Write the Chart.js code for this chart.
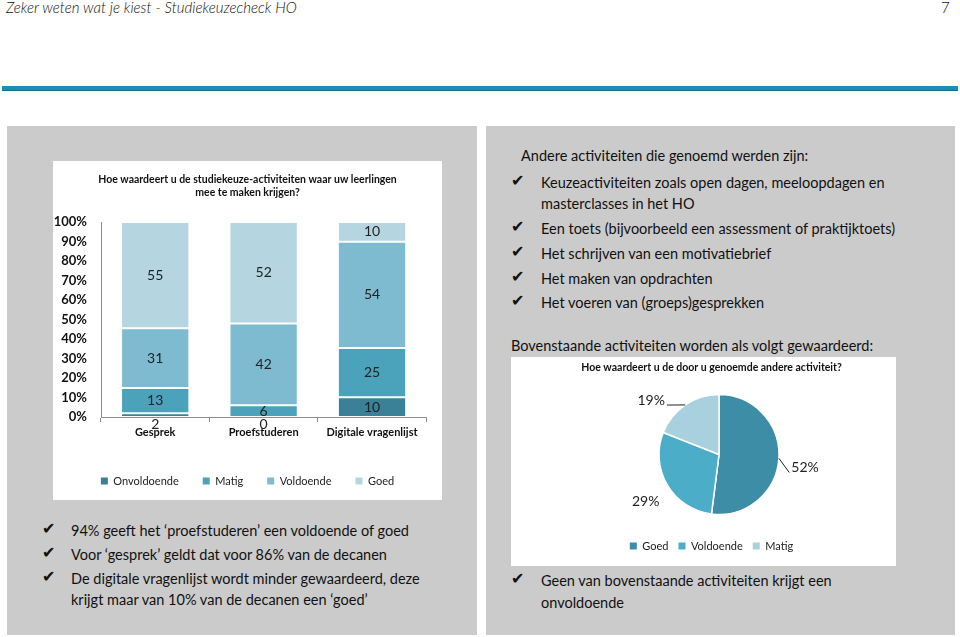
<!DOCTYPE html>
<html>
<head>
<meta charset="utf-8">
<script src="https://cdn.jsdelivr.net/npm/chart.js@4/dist/chart.umd.min.js"></script>
<style>
  html, body { margin: 0; padding: 0; background: #fff; }
  body { width: 960px; height: 637px; position: relative; overflow: hidden; font-family: Lato, "Open Sans", sans-serif; color: #111; }
  .panel { position: absolute; background: #cbcbcb; }
  .box { position: absolute; background: #fff; }
  .ln { position: absolute; white-space: nowrap; font-size: 14.5px; line-height: 20px; }
  .ck { position: absolute; font-family: "DejaVu Sans", sans-serif; font-size: 16px; line-height: 20px; }
</style>
</head>
<body>
<div class="ln" style="left:6px;top:-3px;font-size:15px;font-style:italic;font-weight:300;">Zeker weten wat je kiest - Studiekeuzecheck HO</div>
<div class="ln" style="left:941px;top:-3px;font-size:15px;font-weight:300;">7</div>
<div style="position:absolute;left:2px;top:86px;width:956px;height:4px;background:#1d8db5;border-bottom:1px solid #12708f;"></div>

<div class="panel" style="left:7px;top:126px;width:470px;height:509px;"></div>
<div class="panel" style="left:486px;top:126px;width:469px;height:509px;"></div>

<div class="box" style="left:53px;top:161px;width:389px;height:339px;">
  <canvas id="barChart" width="389" height="339"></canvas>
</div>
<div class="box" style="left:511px;top:357px;width:385px;height:209px;">
  <canvas id="pieChart" width="385" height="209"></canvas>
</div>

<!-- left panel notes -->
<div class="ck" style="left:42px;top:519px;">✔</div>
<div class="ln" style="left:71px;top:521px;">94% geeft het ‘proefstuderen’ een voldoende of goed</div>
<div class="ck" style="left:42px;top:543px;">✔</div>
<div class="ln" style="left:71px;top:545px;">Voor ‘gesprek’ geldt dat voor 86% van de decanen</div>
<div class="ck" style="left:42px;top:567px;">✔</div>
<div class="ln" style="left:71px;top:569px;">De digitale vragenlijst wordt minder gewaardeerd, deze</div>
<div class="ln" style="left:71px;top:590px;">krijgt maar van 10% van de decanen een ‘goed’</div>

<!-- right panel notes -->
<div class="ln" style="left:521px;top:146px;">Andere activiteiten die genoemd werden zijn:</div>
<div class="ck" style="left:511px;top:171px;">✔</div>
<div class="ln" style="left:541px;top:173px;">Keuzeactiviteiten zoals open dagen, meeloopdagen en</div>
<div class="ln" style="left:541px;top:194px;">masterclasses in het HO</div>
<div class="ck" style="left:511px;top:217px;">✔</div>
<div class="ln" style="left:541px;top:219px;">Een toets (bijvoorbeeld een assessment of praktijktoets)</div>
<div class="ck" style="left:511px;top:242px;">✔</div>
<div class="ln" style="left:541px;top:244px;">Het schrijven van een motivatiebrief</div>
<div class="ck" style="left:511px;top:267px;">✔</div>
<div class="ln" style="left:541px;top:269px;">Het maken van opdrachten</div>
<div class="ck" style="left:511px;top:291px;">✔</div>
<div class="ln" style="left:541px;top:293px;">Het voeren van (groeps)gesprekken</div>
<div class="ln" style="left:511px;top:336px;">Bovenstaande activiteiten worden als volgt gewaardeerd:</div>
<div class="ck" style="left:511px;top:569px;">✔</div>
<div class="ln" style="left:541px;top:571px;">Geen van bovenstaande activiteiten krijgt een</div>
<div class="ln" style="left:541px;top:593px;">onvoldoende</div>

<script>
const categories = ['Gesprek', 'Proefstuderen', 'Digitale vragenlijst'];
const ratingNames = ['Onvoldoende', 'Matig', 'Voldoende', 'Goed'];
const onvoldoende = [2, 0, 10];
const matig = [13, 6, 25];
const voldoende = [31, 42, 54];
const goed = [55, 52, 10];

const pieLabels = ['Goed', 'Voldoende', 'Matig'];
const pieValues = [52, 29, 19];

const barColors = ['#3a8096', '#4aa3bb', '#7ebbd0', '#b5d6e1'];
const pieColors = ['#3c8da5', '#4badc7', '#a8d0de'];

Chart.defaults.font.family = 'Lato, "Open Sans", sans-serif';
Chart.defaults.color = '#111';

// 100% stacked: every value as share of its column total
const series = [onvoldoende, matig, voldoende, goed];
const totals = categories.map((c, i) => series.reduce((s, arr) => s + arr[i], 0));

// numbers inside the segments
const barLabels = {
  id: 'barLabels',
  afterDatasetsDraw(chart) {
    const ctx = chart.ctx;
    ctx.save();
    ctx.font = '14px Lato';
    ctx.fillStyle = '#222';
    ctx.textAlign = 'center';
    ctx.textBaseline = 'middle';
    chart.data.datasets.forEach((ds, di) => {
      chart.getDatasetMeta(di).data.forEach((bar, i) => {
        const top = Math.min(bar.y, bar.base);
        const bottom = Math.max(bar.y, bar.base);
        let y = (top + bottom) / 2;
        if (bottom - top < 10) y = bar.base + 7;
        ctx.fillText(ds.raw[i], bar.x, y);
      });
    });
    ctx.restore();
  }
};

// legend squares without the white outline of the bars/slices
const flatBoxes = gen => chart => gen(chart).map(l => ({ ...l, lineWidth: 0 }));

new Chart(document.getElementById('barChart'), {
  type: 'bar',
  data: {
    labels: categories,
    datasets: series.map((arr, k) => ({
      label: ratingNames[k],
      raw: arr,
      data: arr.map((v, i) => v / totals[i] * 100),
      backgroundColor: barColors[k],
      borderColor: '#fff',
      borderWidth: 1,
      borderSkipped: false,
      categoryPercentage: 1,
      barPercentage: 0.63
    }))
  },
  options: {
    responsive: false,
    animation: false,
    layout: { padding: { left: 0, right: 0, top: 0, bottom: 3.5 } },
    scales: {
      x: {
        stacked: true,
        grid: { display: true, drawOnChartArea: false, tickLength: 5, color: '#8c8c8c' },
        border: { display: true, color: '#8c8c8c' },
        ticks: { font: { size: 11, weight: 'bold' }, padding: 4, maxRotation: 0, color: '#111' },
        afterFit(s) { s.height = 34.5; }
      },
      y: {
        stacked: true,
        min: 0,
        max: 100,
        grid: { display: false, drawTicks: false },
        border: { display: true, color: '#8c8c8c' },
        ticks: { stepSize: 10, autoSkip: false, padding: 14, font: { size: 13, weight: 'bold' }, color: '#111', callback: v => v + '%' },
        afterFit(s) { s.width = 48; }
      },
      // empty right-hand axis: only keeps the plot narrower than title and legend
      yRight: {
        position: 'right',
        grid: { display: false },
        border: { display: false },
        ticks: { display: false },
        afterFit(s) { s.width = 15.75; }
      }
    },
    plugins: {
      title: {
        display: true,
        text: ['Hoe waardeert u de studiekeuze-activiteiten waar uw leerlingen', 'mee te maken krijgen?'],
        font: { size: 10.5, weight: 'bold' },
        color: '#111',
        padding: { top: 12.5, bottom: 23.3 }
      },
      legend: {
        position: 'bottom',
        labels: {
          boxWidth: 7, boxHeight: 7, font: { size: 11 }, padding: 24, color: '#222',
          generateLabels: flatBoxes(Chart.defaults.plugins.legend.labels.generateLabels)
        }
      },
      tooltip: { enabled: false }
    }
  },
  plugins: [barLabels]
});

// percentage labels round the pie, with a leader line where Excel drew one
const pieLabelPlugin = {
  id: 'pieLabelPlugin',
  afterLayout(chart) {
    chart.chartArea.left += 15;
  },
  afterDatasetsDraw(chart, args, opts) {
    const ctx = chart.ctx;
    const meta = chart.getDatasetMeta(0);
    const vals = chart.data.datasets[0].data;
    const sum = vals.reduce((a, b) => a + b, 0);
    ctx.save();
    ctx.font = '14px Lato';
    ctx.fillStyle = '#222';
    ctx.strokeStyle = '#222';
    ctx.lineWidth = 1;
    ctx.textAlign = 'center';
    ctx.textBaseline = 'middle';
    meta.data.forEach((arc, i) => {
      const mid = (arc.startAngle + arc.endAngle) / 2;
      const a = mid + opts.angleShift[i] * Math.PI / 180;
      const d = arc.outerRadius * opts.distance;
      const lx = arc.x + Math.cos(a) * d;
      const ly = arc.y + Math.sin(a) * d;
      const txt = Math.round(vals[i] / sum * 100) + '%';
      ctx.fillText(txt, lx, ly);
      if (opts.leader[i]) {
        const w = ctx.measureText(txt).width;
        const ex = arc.x + Math.cos(mid) * arc.outerRadius;
        const ey = arc.y + Math.sin(mid) * arc.outerRadius;
        const tx = lx > arc.x ? lx - w / 2 - 2 : lx + w / 2 + 2;
        ctx.beginPath();
        ctx.moveTo(ex, ey);
        ctx.lineTo(tx, ly + 5);
        ctx.stroke();
      }
    });
    ctx.restore();
  }
};

new Chart(document.getElementById('pieChart'), {
  type: 'pie',
  data: {
    labels: pieLabels,
    datasets: [{
      data: pieValues,
      backgroundColor: pieColors,
      borderColor: '#fff',
      borderWidth: 1.5,
      radius: 60
    }]
  },
  options: {
    responsive: false,
    animation: false,
    layout: { padding: { left: 16, right: 0, top: 0, bottom: 4.5 } },
    plugins: {
      title: {
        display: true,
        text: 'Hoe waardeert u de door u genoemde andere activiteit?',
        font: { size: 10.5, weight: 'bold' },
        color: '#111',
        padding: { top: 4, bottom: 5 }
      },
      legend: {
        position: 'bottom',
        labels: {
          boxWidth: 7, boxHeight: 7, font: { size: 11 }, padding: 10, color: '#222',
          generateLabels: flatBoxes(Chart.overrides.pie.plugins.legend.labels.generateLabels)
        }
      },
      tooltip: { enabled: false },
      pieLabelPlugin: { angleShift: [5, -2, -17], distance: 1.45, leader: [true, false, true] }
    }
  },
  plugins: [pieLabelPlugin]
});
</script>
</body>
</html>
